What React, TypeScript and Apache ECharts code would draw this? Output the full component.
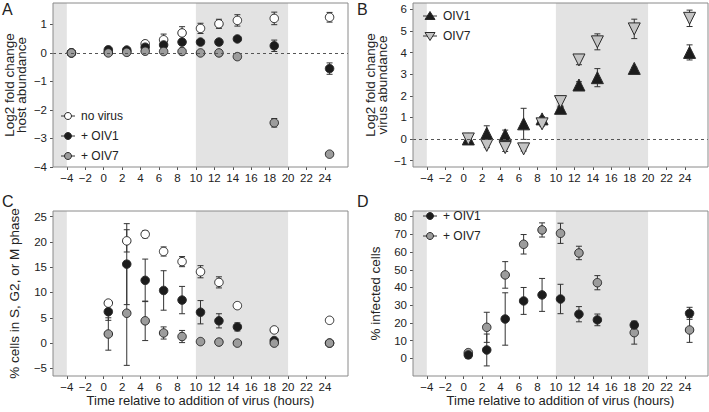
import React, { useEffect, useRef } from "react";
import * as echarts from "echarts";

// ---------- data ----------
const xTicks = [-4, -2, 0, 2, 4, 6, 8, 10, 12, 14, 16, 18, 20, 22, 24];
const shadeRanges = [[-5.5, -4], [10, 20]];

// Panel A: host abundance (log2 fold change)
const timesA = [-3.5, 0.5, 2.5, 4.5, 6.5, 8.5, 10.5, 12.5, 14.5, 18.5, 24.5];
const hostNoVirus = [0, 0.03, 0.05, 0.32, 0.46, 0.7, 0.86, 1.02, 1.14, 1.21, 1.25];
const hostNoVirusErr = [0.03, 0.05, 0.05, 0.08, 0.2, 0.22, 0.18, 0.16, 0.2, 0.22, 0.17];
const hostOIV1 = [0, 0.11, 0.1, 0.2, 0.28, 0.38, 0.38, 0.38, 0.49, 0.25, -0.55];
const hostOIV1Err = [0.02, 0.05, 0.05, 0.05, 0.05, 0.06, 0.07, 0.06, 0.08, 0.2, 0.2];
const hostOIV7 = [0, 0, 0.02, 0.06, 0.05, 0.05, 0, 0, -0.13, -2.45, -3.55];
const hostOIV7Err = [0.02, 0.03, 0.03, 0.03, 0.03, 0.03, 0.03, 0.03, 0.05, 0.15, 0.08];
const yTicksA = [-4, -3, -2, -1, 0, 1];

// Panel B: virus abundance
const timesB = [0.5, 2.5, 4.5, 6.5, 8.5, 10.5, 12.5, 14.5, 18.5, 24.5];
const virusOIV1 = [0, 0.26, 0.19, 0.7, 0.93, 1.42, 2.5, 2.84, 3.27, 4.01];
const virusOIV1Err = [0.05, 0.35, 0.22, 0.72, 0.1, 0.1, 0.15, 0.42, 0.05, 0.35];
const virusOIV7 = [0, -0.3, -0.4, -0.46, 0.7, 1.73, 3.66, 4.5, 5.1, 5.59];
const virusOIV7Err = [0.05, 0.1, 0.18, 0.1, 0.1, 0.25, 0.22, 0.37, 0.45, 0.38];
const yTicksB = [-1, 0, 1, 2, 3, 4, 5, 6];

// Panel C: % cells in S, G2 or M phase
const timesC = [0.5, 2.5, 4.5, 6.5, 8.5, 10.5, 12.5, 14.5, 18.5, 24.5];
const cycNoVirus = [7.9, 20.2, 21.5, 18.1, 16.1, 14.1, 12.0, 7.4, 2.6, 4.5];
const cycNoVirusErr = [0.3, 2.2, 0.7, 0.9, 1.0, 1.2, 1.1, 0.5, 0.2, 0.2];
const cycOIV1 = [6.2, 15.6, 12.4, 10.4, 8.5, 6.1, 4.4, 3.2, 0.5, 0];
const cycOIV1Err = [1.7, 8.0, 4.2, 3.9, 2.7, 2.3, 1.4, 0.8, 0.3, 0.2];
const cycOIV7 = [1.8, 5.9, 4.4, 2.0, 1.3, 0.3, 0.2, 0, 0, 0];
const cycOIV7Err = [3.2, 10.3, 3.9, 1.2, 1.2, 0.2, 0.2, 0.2, 0.2, 0.2];
const yTicksC = [-5, 0, 5, 10, 15, 20, 25];

// Panel D: % infected cells
const timesD = [0.5, 2.5, 4.5, 6.5, 8.5, 10.5, 12.5, 14.5, 18.5, 24.5];
const infOIV1 = [1.9, 4.7, 22.2, 32.4, 35.8, 33.5, 24.9, 21.7, 18.8, 25.4];
const infOIV1Err = [2, 9, 14.8, 7.6, 9.3, 8.3, 4.3, 3.3, 2, 3.4];
const infOIV7 = [3.2, 17.5, 47.1, 64.4, 72.5, 70.6, 59.5, 42.7, 14.5, 16];
const infOIV7Err = [1, 8.5, 7.5, 5.5, 4, 5.7, 3.8, 4, 6.5, 7];
const yTicksD = [0, 10, 20, 30, 40, 50, 60, 70, 80];

const legendA = ["no virus", "+ OIV1", "+ OIV7"];
const legendB = ["OIV1", "OIV7"];
const legendD = ["+ OIV1", "+ OIV7"];
const xTitle = "Time relative to addition of virus (hours)";

// ---------- styles ----------
const FONT = "Liberation Sans, Arial, Helvetica, sans-serif";
const TXT = "#222";
const WHITE = "#ffffff";
const BLACK = "#1c1c1c";
const GRAY = "#9c9c9c";
const LIGHTTRI = "#c4c4c4";
const EDGE = "#2a2a2a";
const SHADE = "#e3e3e3";

const fmt = (v: number) => String(v).replace("-", "\u2212");

function zip(t: number[], v: number[], e?: number[]) {
  return t.map((x, i) => (e ? [x, v[i], e[i]] : [x, v[i]]));
}

function errorSeries(idx: number, t: number[], v: number[], e: number[]) {
  return {
    type: "custom",
    xAxisIndex: idx,
    yAxisIndex: idx,
    z: 2,
    silent: true,
    data: zip(t, v, e),
    renderItem: (params: any, api: any) => {
      const x = api.value(0);
      const y = api.value(1);
      const er = api.value(2);
      const top = api.coord([x, y + er]);
      const bot = api.coord([x, y - er]);
      const c = 3;
      const st = { stroke: "#333", lineWidth: 1 };
      return {
        type: "group",
        children: [
          { type: "line", shape: { x1: top[0], y1: top[1], x2: bot[0], y2: bot[1] }, style: st },
          { type: "line", shape: { x1: top[0] - c, y1: top[1], x2: top[0] + c, y2: top[1] }, style: st },
          { type: "line", shape: { x1: bot[0] - c, y1: bot[1], x2: bot[0] + c, y2: bot[1] }, style: st },
        ],
      };
    },
  };
}

function pointSeries(idx: number, name: string, t: number[], v: number[], fill: string, symbol = "circle", size = 8.5, rotate = 0) {
  return {
    type: "scatter",
    name,
    xAxisIndex: idx,
    yAxisIndex: idx,
    z: 3,
    symbol,
    symbolSize: size,
    symbolRotate: rotate,
    data: zip(t, v),
    itemStyle: { color: fill, borderColor: EDGE, borderWidth: 1, opacity: 1 },
    silent: true,
  };
}

function decorSeries(idx: number, zeroLine: boolean) {
  const s: any = {
    type: "scatter",
    xAxisIndex: idx,
    yAxisIndex: idx,
    data: [],
    z: 1,
    silent: true,
    markArea: {
      silent: true,
      itemStyle: { color: SHADE },
      data: shadeRanges.map((r) => [{ xAxis: r[0] }, { xAxis: r[1] }]),
    },
  };
  if (zeroLine) {
    s.markLine = {
      silent: true,
      symbol: ["none", "none"],
      label: { show: false },
      lineStyle: { color: "#555", width: 1, type: [3, 3] },
      data: [{ yAxis: 0 }],
    };
  }
  return s;
}

function xAxisFor(idx: number, withTitle: boolean) {
  return {
    type: "value",
    gridIndex: idx,
    min: -5.5,
    max: 26.5,
    axisLine: { show: false, onZero: false },
    axisTick: { show: true, length: 3, customValues: xTicks, lineStyle: { color: "#555" } },
    axisLabel: { customValues: xTicks, formatter: fmt, fontSize: 11.5, color: TXT, fontFamily: FONT, margin: 5 },
    splitLine: { show: false },
    name: withTitle ? xTitle : "",
    nameLocation: "middle",
    nameGap: 18,
    nameTextStyle: { fontSize: 13, color: TXT, fontFamily: FONT },
  };
}

function yAxisFor(idx: number, min: number, max: number, ticks: number[], name: string, gap: number, size: number) {
  return {
    type: "value",
    gridIndex: idx,
    min,
    max,
    axisLine: { show: false, onZero: false },
    axisTick: { show: true, length: 3, customValues: ticks, lineStyle: { color: "#555" } },
    axisLabel: { customValues: ticks, formatter: fmt, fontSize: 11.5, color: TXT, fontFamily: FONT, margin: 6 },
    splitLine: { show: false },
    name,
    nameLocation: "middle",
    nameRotate: 90,
    nameGap: gap,
    nameTextStyle: { fontSize: size, lineHeight: 12.5, color: TXT, fontFamily: FONT },
  };
}

function legendGraphics(x: number, y: number, names: string[], kinds: { fill: string; shape: string }[]) {
  const els: any[] = [];
  names.forEach((n, i) => {
    const cy = y + i * 20;
    const cx = x + 7;
    els.push({ type: "line", shape: { x1: x, y1: cy, x2: x + 14, y2: cy }, style: { stroke: "#333", lineWidth: 1 }, z: 20 });
    const k = kinds[i];
    if (k.shape === "circle") {
      els.push({ type: "circle", shape: { cx, cy, r: 3.5 }, style: { fill: k.fill, stroke: EDGE, lineWidth: 1 }, z: 21 });
    } else if (k.shape === "up") {
      els.push({ type: "polygon", shape: { points: [[cx, cy - 4.5], [cx + 5, cy + 3.5], [cx - 5, cy + 3.5]] }, style: { fill: k.fill, stroke: EDGE, lineWidth: 1 }, z: 21 });
    } else {
      els.push({ type: "polygon", shape: { points: [[cx, cy + 4.5], [cx + 5, cy - 3.5], [cx - 5, cy - 3.5]] }, style: { fill: k.fill, stroke: EDGE, lineWidth: 1 }, z: 21 });
    }
    els.push({ type: "text", x: x + 20, y: cy, style: { text: n, fill: TXT, font: `12px ${FONT}`, verticalAlign: "middle" }, z: 21 });
  });
  return els;
}

function panelLetter(t: string, x: number, y: number) {
  return { type: "text", x, y, style: { text: t, fill: TXT, font: `16px ${FONT}` }, z: 30 };
}

function buildOption() {
  const gridBase = { show: true, borderColor: "#8a8a8a", borderWidth: 1, backgroundColor: "transparent", z: 10 };
  return {
    animation: false,
    textStyle: { fontFamily: FONT },
    grid: [
      { ...gridBase, left: 53, top: 3, width: 295, height: 164 },
      { ...gridBase, left: 413, top: 3, width: 295, height: 164 },
      { ...gridBase, left: 53, top: 211, width: 295, height: 165 },
      { ...gridBase, left: 413, top: 211, width: 295, height: 165 },
    ],
    xAxis: [xAxisFor(0, false), xAxisFor(1, false), xAxisFor(2, true), xAxisFor(3, true)],
    yAxis: [
      yAxisFor(0, -4, 1.75, yTicksA, "Log2 fold change\nhost abundance", 25, 13.5),
      yAxisFor(1, -1.3, 6.3, yTicksB, "Log2 fold change\nvirus abundance", 17, 13.5),
      yAxisFor(2, -6.5, 26.1, yTicksC, "% cells in S, G2, or M phase", 32, 13.5),
      yAxisFor(3, -10, 83.2, yTicksD, "% infected cells", 31, 13.5),
    ],
    series: [
      decorSeries(0, true),
      decorSeries(1, true),
      decorSeries(2, false),
      decorSeries(3, false),
      // A
      errorSeries(0, timesA, hostNoVirus, hostNoVirusErr),
      errorSeries(0, timesA, hostOIV1, hostOIV1Err),
      errorSeries(0, timesA, hostOIV7, hostOIV7Err),
      pointSeries(0, "no virus", timesA, hostNoVirus, WHITE),
      pointSeries(0, "+ OIV1", timesA, hostOIV1, BLACK),
      pointSeries(0, "+ OIV7", timesA, hostOIV7, GRAY),
      // B
      errorSeries(1, timesB, virusOIV1, virusOIV1Err),
      errorSeries(1, timesB, virusOIV7, virusOIV7Err),
      pointSeries(1, "OIV1", timesB, virusOIV1, BLACK, "triangle", 12, 0),
      pointSeries(1, "OIV7", timesB, virusOIV7, LIGHTTRI, "triangle", 12, 180),
      // C
      errorSeries(2, timesC, cycNoVirus, cycNoVirusErr),
      errorSeries(2, timesC, cycOIV1, cycOIV1Err),
      errorSeries(2, timesC, cycOIV7, cycOIV7Err),
      pointSeries(2, "no virus C", timesC, cycNoVirus, WHITE),
      pointSeries(2, "+ OIV1 C", timesC, cycOIV1, BLACK),
      pointSeries(2, "+ OIV7 C", timesC, cycOIV7, GRAY),
      // D
      errorSeries(3, timesD, infOIV7, infOIV7Err),
      errorSeries(3, timesD, infOIV1, infOIV1Err),
      pointSeries(3, "+ OIV7 D", timesD, infOIV7, GRAY),
      pointSeries(3, "+ OIV1 D", timesD, infOIV1, BLACK),
    ],
    graphic: [
      panelLetter("A", 2, 1),
      panelLetter("B", 357, 1),
      panelLetter("C", 2, 193),
      panelLetter("D", 357, 193),
      ...legendGraphics(61, 116, legendA, [
        { fill: WHITE, shape: "circle" },
        { fill: BLACK, shape: "circle" },
        { fill: GRAY, shape: "circle" },
      ]),
      ...legendGraphics(423, 16, legendB, [
        { fill: BLACK, shape: "up" },
        { fill: LIGHTTRI, shape: "down" },
      ]),
      ...legendGraphics(423, 216, legendD, [
        { fill: BLACK, shape: "circle" },
        { fill: GRAY, shape: "circle" },
      ]),
    ],
  };
}

export default function App() {
  const ref = useRef<HTMLDivElement>(null);
  useEffect(() => {
    if (!ref.current) return;
    const chart = echarts.init(ref.current, null, { renderer: "svg" });
    chart.setOption(buildOption() as any);
    return () => chart.dispose();
  }, []);
  return (
    <div
      ref={ref}
      style={{ position: "fixed", left: 0, top: 0, width: 709, height: 412, background: "#fff" }}
    />
  );
}
